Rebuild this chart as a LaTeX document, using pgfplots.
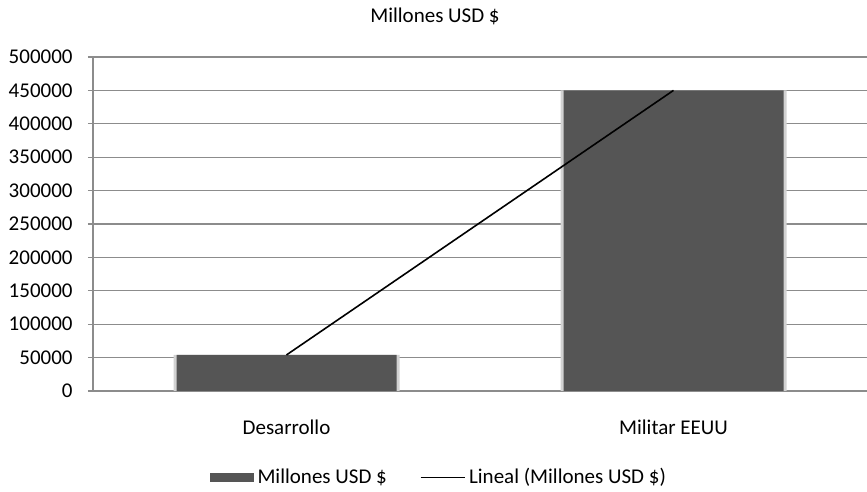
\documentclass[border=0pt]{standalone}
\usepackage{fontspec}
\setmainfont{Carlito}
\usepackage{pgfplots}
\pgfplotsset{compat=1.18}
\definecolor{barfill}{HTML}{555555}
\definecolor{barshadow}{HTML}{D2D2D2}
\definecolor{gridgray}{HTML}{8C8C8C}
\begin{document}
\fontsize{10.5}{12.6}\selectfont
\begin{tikzpicture}
\begin{axis}[
    at={(0,0)}, anchor=south west,
    scale only axis,
    width=387pt, height=167pt,
    xmin=-0.5, xmax=1.5,
    ymin=0, ymax=500000,
    xtick={0,1},
    xticklabels={Desarrollo, Militar EEUU},
    ytick={0,50000,...,500000},
    scaled y ticks=false,
    /pgf/number format/assume math mode=true,
    yticklabel={\pgfmathprintnumber[fixed,use comma,1000 sep={}]{\tick}},
    axis x line*=bottom,
    axis y line*=left,
    axis line style={gridgray, line width=0.6pt},
    ymajorgrids,
    grid style={gridgray, line width=0.6pt},
    xtick style={draw=none},
    ytick style={gridgray, line width=0.6pt},
    tick align=outside,
    major tick length=2.5pt,
    yticklabel style={font=\fontsize{10.5}{12.6}\selectfont, xshift=-4pt},
    xticklabel style={font=\fontsize{10.5}{12.6}\selectfont, yshift=-8.5pt},
    legend style={
        at={(0.448,-0.26)}, anchor=center,
        draw=none, fill=none,
        legend columns=2,
        font=\fontsize{10.5}{12.6}\selectfont,
        /tikz/every even column/.append style={column sep=14.5pt},
    },
]
\addplot[ybar, bar width=113pt, bar shift=0pt, fill=barshadow, draw=none, forget plot]
    coordinates {(0,54000) (1,450000)};
\addplot[ybar, bar width=110pt, bar shift=0pt, fill=barfill, draw=none,
    legend image code/.code={\fill[barfill] (0pt,-2.3pt) rectangle (22pt,2.3pt);}]
    coordinates {(0,54000) (1,450000)};
\addlegendentry{Millones USD \$}
\addplot[black, line width=0.8pt, sharp plot,
    legend image code/.code={\draw[black, line width=0.6pt] (0pt,0pt) -- (22pt,0pt);}]
    coordinates {(0,54000) (1,450000)};
\addlegendentry{Lineal (Millones USD \$)}
\end{axis}
\node at (171pt,187.5pt) {Millones USD \$};
\pgfresetboundingbox
\path (-46.5pt,-50.5pt) rectangle (387pt,195.5pt);
\end{tikzpicture}
\end{document}
